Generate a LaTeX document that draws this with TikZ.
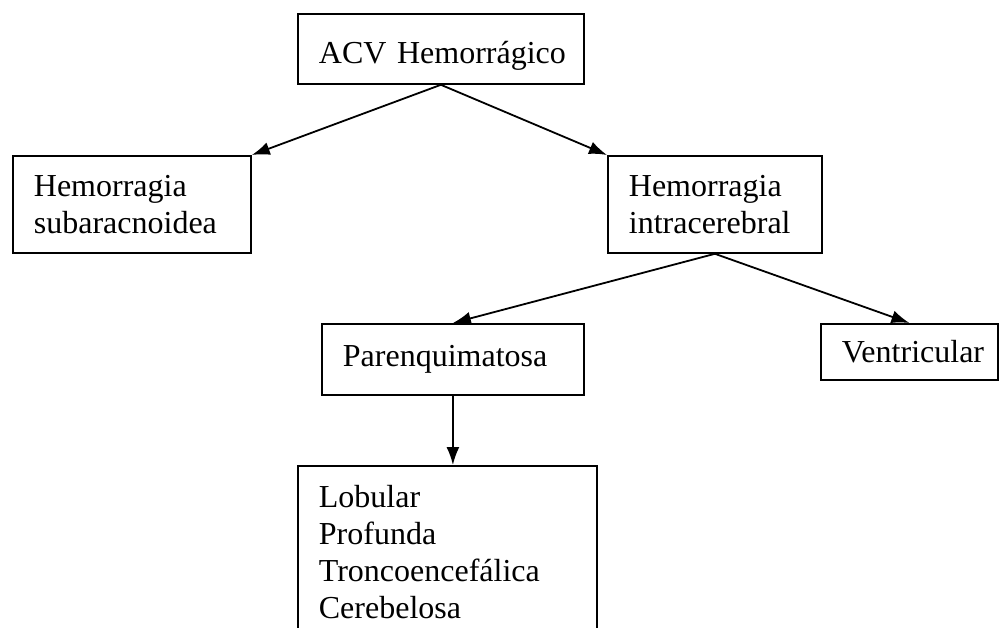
\documentclass[tikz,border=0pt]{standalone}
\usepackage{fontspec}
\setmainfont{Liberation Serif}
\usetikzlibrary{arrows.meta}
\tikzset{
  box/.style={draw, line width=1.8pt, rectangle, anchor=north west, inner xsep=21pt, inner ysep=0pt, align=left,
    font=\fontsize{32}{37}\selectfont},
  arr/.style={line width=1.8pt, -{Latex[length=18pt,width=13pt]}}
}
\begin{document}
\begin{tikzpicture}[x=1pt,y=-1pt]
\useasboundingbox (0,0) rectangle (1000,628);
\clip (0,0) rectangle (1000,628);
\node[box, text width=244pt, minimum height=70pt, text height=34pt, text depth=4pt] (acv) at (297,13) {\mbox{ACV Hemorrágico}};
\node[box, text width=196pt, minimum height=97pt] (sub) at (12,155) {Hemorragia\\subaracnoidea};
\node[box, text width=172pt, minimum height=97pt] (intra) at (607,155) {Hemorragia\\intracerebral};
\node[box, text width=220pt, minimum height=71pt] (par) at (321,323) {Parenquimatosa};
\node[box, text width=135pt, minimum height=56pt] (ven) at (820,323) {\mbox{Ventricular}};
\node[box, text width=257pt, inner ysep=19pt] (sub2) at (297,465) {Lobular\\Profunda\\Troncoencefálica\\Cerebelosa};
\draw[arr] (acv.south) -- (sub.north east);
\draw[arr] (acv.south) -- (intra.north west);
\draw[arr] (intra.south) -- (par.north);
\draw[arr] (intra.south) -- (ven.north);
\draw[arr] (par.south) -- (par.south |- sub2.north);
\end{tikzpicture}
\end{document}
